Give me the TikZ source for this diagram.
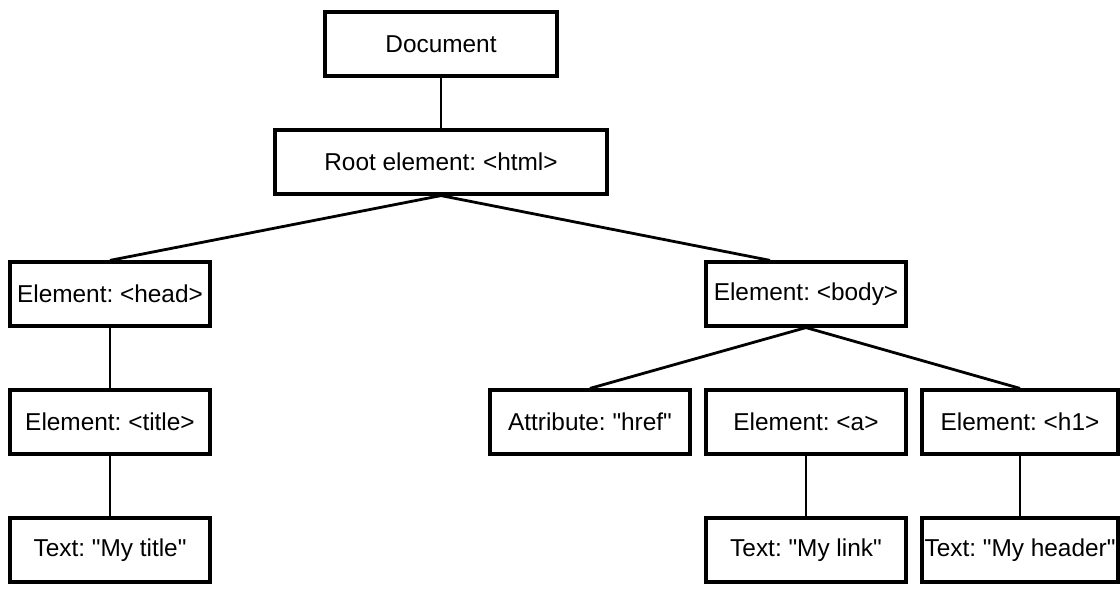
\documentclass[tikz,border=0pt]{standalone}
\usepackage{fontspec}
\setmainfont[Ligatures=TeXOff]{Liberation Sans}
\usepackage{tikz}
\frenchspacing

\begin{document}
\begin{tikzpicture}[node distance={64pt}, main/.style = {draw, rectangle, line width=1.6pt, minimum width=100pt, minimum height=32pt, inner sep=0pt, font=\fontsize{12.2pt}{14pt}\selectfont}, link/.style = {line width=1.4pt}] 
			\useasboundingbox (-220.5pt,22pt) rectangle (339.5pt,-274pt);
			\node[main, minimum width=116pt] (doc) {Document}; 
			\node[main, minimum width=166pt] (html) [below of=doc, yshift=5pt] {Root element: <html>};
			\node[main] (head) [below of=html, xshift=-165.5pt, yshift=-2pt] {Element: <head>};
			\node[main] (body) [below of=html, xshift=182.5pt, yshift=-2pt] {Element: <body>};
			\node[main] (title) [below of=head] {Element: <title>};
			\node[main] (mytitle) [below of=title] {Text: "My title"};
			\node[main] (a) [below of=body] {Element: <a>};
			\node[main] (href) [below of=body, xshift=-108pt] {Attribute: "href"};
			\node[main, minimum width=98pt] (h1) [below of=body, xshift=107pt] {Element: <h1>};
			\node[main] (mylink) [below of=a] {Text: "My link"};
			\node[main, minimum width=98pt] (myheader) [below of=h1] {Text: "My header"};
			\draw[link] (doc) -- (html);
			\draw[link] (html.south) -- (head.north);
			\draw[link] (html.south) -- ([xshift=-18pt]body.north);
			\draw[link] (head) -- (title);
			\draw[link] (title) -- (mytitle);
			\draw[link] (body.south) -- (href.north);
			\draw[link] (body.south) -- (h1.north);
			\draw[link] (a) -- (mylink);
			\draw[link] (h1) -- (myheader);
		\end{tikzpicture}
\end{document}
